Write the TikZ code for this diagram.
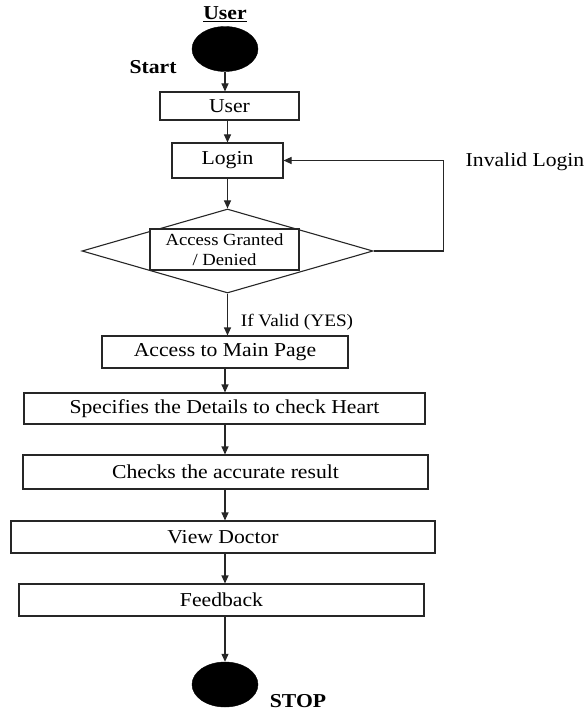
\documentclass[tikz,border=0pt]{standalone}
\usepackage{fontspec}
\setmainfont{Liberation Serif}[FakeStretch=1.1]
\usetikzlibrary{shapes.geometric,arrows.meta}

\tikzset{
  line/.style={draw=black!85, line width=1.1pt},
  arr/.style={line, -{Triangle[length=8pt,width=7pt]}},
  stepbox/.style={line, rectangle, inner sep=0pt, fill=white,
    font=\fontsize{19.7}{22}\selectfont},
  terminal/.style={ellipse, fill=black, draw=black, inner sep=0pt,
    minimum width=66pt, minimum height=45pt},
  lbl/.style={inner sep=0pt, font=\fontsize{19.7}{22}\selectfont},
  boldlbl/.style={lbl, font=\fontsize{19.7}{22}\selectfont\bfseries},
}

\begin{document}
\begin{tikzpicture}[x=1pt, y=-1pt]
\useasboundingbox (0,0) rectangle (584,711);

% start / end markers
\node[terminal] (start) at (225,49) {};
\node[terminal] (stop)  at (225,684.5) {};

% process steps
\node[stepbox, minimum width=139pt, minimum height=28pt] (userbox)  at (229.5,106)  {User};
\node[stepbox, minimum width=111pt, minimum height=35pt] (login)    at (227.5,160.5) {Login};
\node[diamond, line, inner sep=0pt, minimum width=291pt, minimum height=84pt] (decision) at (227.5,251) {};
\node[stepbox, minimum width=149pt, minimum height=41pt, align=center,
      font=\fontsize{17}{20}\selectfont] (gate) at (224.5,249.5) {Access Granted\\/ Denied};
\node[stepbox, minimum width=246pt, minimum height=32pt] (mainpage) at (225,352)   {Access to Main Page};
\node[stepbox, minimum width=401pt, minimum height=31pt] (details)  at (224.5,408.5) {Specifies the Details to check Heart};
\node[stepbox, minimum width=405pt, minimum height=34pt] (checks)   at (225.5,472) {Checks the accurate result};
\node[stepbox, minimum width=424pt, minimum height=32pt] (doctor)   at (223,537)   {View Doctor};
\node[stepbox, minimum width=405pt, minimum height=32pt] (feedback) at (221.5,600) {Feedback};

% labels
\node[boldlbl] (title)   at (225,14)  {\underline{User}};
\node[boldlbl] (startlb) at (153,67)  {Start};
\node[lbl]     (invalid) at (525,162) {Invalid Login};
\node[lbl, font=\fontsize{17.5}{20}\selectfont] (valid) at (297,322) {If Valid (YES)};
\node[boldlbl] (stoplb)  at (298,701) {STOP};

% flow
\draw[arr] (start.south) -- (start.south |- userbox.north);
\draw[arr] (login.north |- userbox.south) -- (login.north);
\draw[arr] (login.south) -- (decision.north);
\draw[arr] (decision.south) -- (decision.south |- mainpage.north);
\draw[arr] (mainpage.south) -- (mainpage.south |- details.north);
\draw[arr] (mainpage.south |- details.south) -- (mainpage.south |- checks.north);
\draw[arr] (mainpage.south |- checks.south) -- (mainpage.south |- doctor.north);
\draw[arr] (mainpage.south |- doctor.south) -- (mainpage.south |- feedback.north);
\draw[arr] (mainpage.south |- feedback.south) -- (stop.north);

% retry loop
\draw[arr] (decision.east) -- ++(70,0) |- (login.east);
\end{tikzpicture}
\end{document}
